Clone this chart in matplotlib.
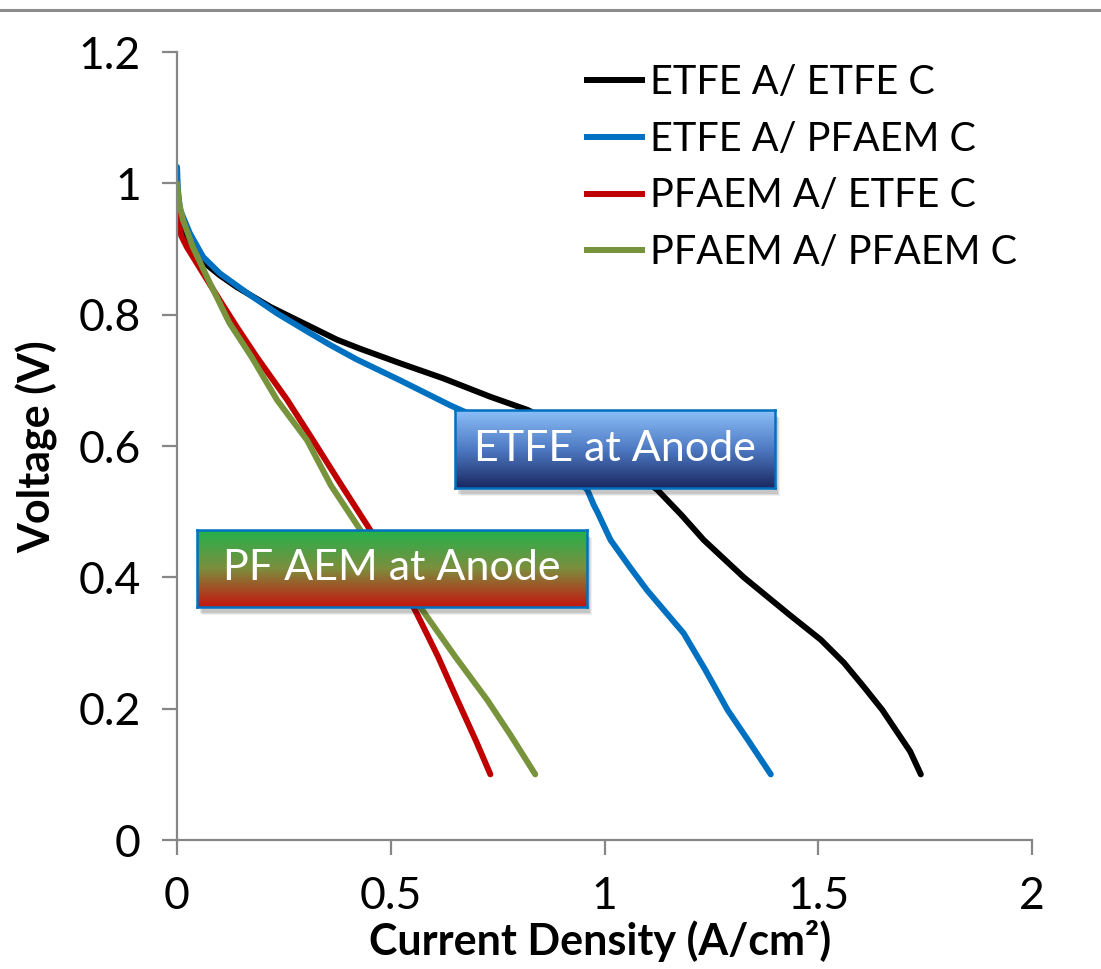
import numpy as np
import matplotlib
matplotlib.use("Agg")
import matplotlib.pyplot as plt
from matplotlib.patches import Rectangle
from matplotlib.lines import Line2D

plt.rcParams['font.family'] = ['Lato', 'DejaVu Sans']

# Polaryzacja
etfe_etfe_x = [0, 0.004, 0.015, 0.047, 0.1, 0.14, 0.218, 0.296, 0.374, 0.429, 0.522, 0.623,
               0.733, 0.82, 0.9, 1.0, 1.07, 1.124, 1.18, 1.232, 1.326, 1.429, 1.506, 1.56,
               1.607, 1.65, 1.686, 1.715, 1.74]
etfe_etfe_v = [1.0, 0.96, 0.925, 0.888, 0.86, 0.842, 0.812, 0.787, 0.762, 0.748, 0.726, 0.703,
               0.675, 0.655, 0.63, 0.59, 0.56, 0.533, 0.495, 0.457, 0.40, 0.345, 0.305, 0.27,
               0.233, 0.198, 0.163, 0.135, 0.10]

etfe_pfaem_x = [0, 0.002, 0.007, 0.03, 0.061, 0.10, 0.164, 0.234, 0.311, 0.358, 0.42, 0.522,
                0.639, 0.663, 0.75, 0.85, 0.92, 0.96, 0.975, 0.983, 1.014, 1.06, 1.10, 1.185,
                1.235, 1.288, 1.34, 1.389]
etfe_pfaem_v = [1.025, 0.99, 0.96, 0.924, 0.888, 0.863, 0.833, 0.802, 0.772, 0.754, 0.732, 0.70,
                0.662, 0.655, 0.63, 0.59, 0.56, 0.533, 0.51, 0.50, 0.457, 0.415, 0.38, 0.315,
                0.26, 0.198, 0.148, 0.10]

pfaem_etfe_x = [0, 0.003, 0.01, 0.023, 0.061, 0.10, 0.14, 0.187, 0.258, 0.318, 0.38, 0.452,
                0.50, 0.557, 0.61, 0.656, 0.70, 0.733]
pfaem_etfe_v = [0.98, 0.94, 0.92, 0.903, 0.863, 0.822, 0.781, 0.735, 0.67, 0.609, 0.545, 0.472,
                0.415, 0.35, 0.28, 0.213, 0.15, 0.10]

pfaem_pfaem_x = [0, 0.005, 0.014, 0.037, 0.077, 0.122, 0.175, 0.234, 0.304, 0.36, 0.429, 0.50,
                 0.574, 0.65, 0.726, 0.78, 0.838]
pfaem_pfaem_v = [1.0, 0.97, 0.944, 0.903, 0.848, 0.788, 0.735, 0.67, 0.609, 0.54, 0.472, 0.41,
                 0.35, 0.28, 0.213, 0.16, 0.10]

labels = ['ETFE A/ ETFE C', 'ETFE A/ PFAEM C', 'PFAEM A/ ETFE C', 'PFAEM A/ PFAEM C']
colors = ['#000000', '#0070C0', '#C00000', '#77933C']

fig = plt.figure(figsize=(11.01, 9.69), dpi=100)
ax = fig.add_axes([0.1608, 0.1331, 0.7765, 0.8132])

series = [(etfe_etfe_x, etfe_etfe_v), (etfe_pfaem_x, etfe_pfaem_v),
          (pfaem_etfe_x, pfaem_etfe_v), (pfaem_pfaem_x, pfaem_pfaem_v)]
for (x, v), c, lab in zip(series, colors, labels):
    ax.plot(x, v, color=c, lw=4.3, label=lab, solid_capstyle='round', solid_joinstyle='round')

ax.set_xlim(0, 2)
ax.set_ylim(0, 1.2)
ax.set_xticks([0, 0.5, 1, 1.5, 2])
ax.set_xticklabels(['0', '0.5', '1', '1.5', '2'])
ax.set_yticks([0, 0.2, 0.4, 0.6, 0.8, 1, 1.2])
ax.set_yticklabels(['0', '0.2', '0.4', '0.6', '0.8', '1', '1.2'])

grey = '#868686'
for s in ['top', 'right']:
    ax.spines[s].set_visible(False)
for s in ['left', 'bottom']:
    ax.spines[s].set_color(grey)
    ax.spines[s].set_linewidth(1.6)
ax.tick_params(axis='both', colors=grey, labelcolor='black', width=1.6, length=11,
               labelsize=32, direction='out')
ax.tick_params(axis='y', pad=15)
ax.tick_params(axis='x', pad=15)

ax.set_xlabel('Current Density (A/cm²)', fontsize=31, fontweight='bold', va='top')
ax.xaxis.set_label_coords(0.495, -0.101)
ax.set_ylabel('Voltage (V)', fontsize=31, fontweight='bold', va='bottom')
ax.yaxis.set_label_coords(-0.139, 0.499)

handles = [Line2D([0], [0], color=c, lw=4.3) for c in colors]
leg = ax.legend(handles, labels, loc='upper left', bbox_to_anchor=(0.4795, 0.985),
                frameon=False, fontsize=28.5, handlelength=1.39, handletextpad=0.2,
                labelspacing=0.5, borderaxespad=0, borderpad=0)

# linia u góry
fig.add_artist(Line2D([0, 1], [0.9897, 0.9897], color='#8c8c8c', lw=2.2,
                      transform=fig.transFigure))


# ramki z gradientem
def gradient_box(rect, top, mid, bottom, text):
    l, b, w, h = rect
    for i, a in enumerate([0.10, 0.08, 0.06]):
        fig.add_artist(Rectangle((l + 0.003 + i * 0.001, b - 0.006 - i * 0.001), w, h,
                                 transform=fig.transFigure, color='black', alpha=a,
                                 lw=0, zorder=5))
    bax = fig.add_axes(rect, zorder=10)
    t = np.linspace(0, 1, 200)[:, None, None]
    c0, c1, c2 = [np.array(matplotlib.colors.to_rgb(c)) for c in (top, mid, bottom)]
    img = np.where(t < 0.5, c0 + (c1 - c0) * (t / 0.5), c1 + (c2 - c1) * ((t - 0.5) / 0.5))
    bax.imshow(img, aspect='auto', extent=[0, 1, 0, 1], origin='upper')
    bax.set_xticks([])
    bax.set_yticks([])
    for s in bax.spines.values():
        s.set_color('#0070C0')
        s.set_linewidth(1.8)
    bax.text(0.5, 0.5, text, color='white', fontsize=31, ha='center', va='center',
             transform=bax.transAxes)


gradient_box([0.4133, 0.4964, 0.2906, 0.0805], '#8EC1FA', '#4F7BC4', '#1A2862', 'ETFE at Anode')
gradient_box([0.1789, 0.3736, 0.3542, 0.0795], '#20B24C', '#7C8F3E', '#C4150E', 'PF AEM at Anode')

fig.savefig('out.png', dpi=100)
